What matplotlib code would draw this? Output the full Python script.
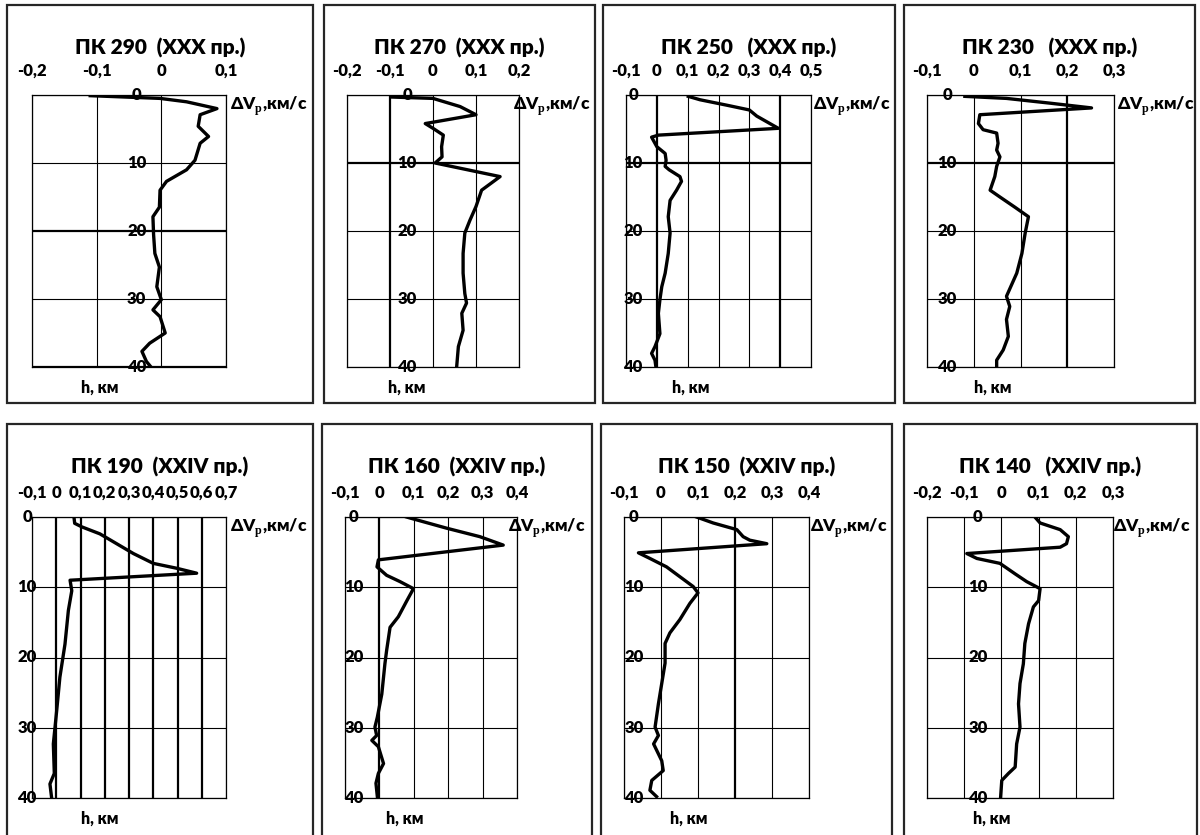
import numpy as np
import matplotlib.pyplot as plt
from matplotlib.patches import Rectangle

plt.rcParams['font.family'] = ['Lato', 'Open Sans', 'DejaVu Sans']
plt.rcParams['font.weight'] = 'bold'
plt.rcParams['mathtext.fontset'] = 'custom'
plt.rcParams['mathtext.rm'] = 'Liberation Serif'

W, H = 1200, 835

titles = ["ПК 290  (XXX пр.)", "ПК 270  (XXX пр.)", "ПК 250   (XXX пр.)",
          "ПК 230   (XXX пр.)", "ПК 190  (XXIV пр.)", "ПК 160  (XXIV пр.)",
          "ПК 150  (XXIV пр.)", "ПК 140   (XXIV пр.)"]
x_ranges = [(-0.2, 0.1), (-0.2, 0.2), (-0.1, 0.5), (-0.1, 0.3),
            (-0.1, 0.7), (-0.1, 0.4), (-0.1, 0.4), (-0.2, 0.3)]
depth_ticks = [0, 10, 20, 30, 40]

# ПК 290
h1 = [0.1, 0.5, 1.0, 2.0, 2.9, 4.6, 6.1, 7.1, 9.6, 11.0, 12.7, 14.0, 16.5, 17.9,
      20.5, 23.3, 25.3, 28.2, 30.1, 31.6, 32.6, 35.0, 36.5, 37.7, 39.2, 40.0]
v1 = [-0.11, -0.002, 0.039, 0.086, 0.060, 0.057, 0.073, 0.060, 0.052, 0.039, 0.008,
      -0.002, -0.003, -0.013, -0.012, -0.010, -0.003, -0.007, 0.0, -0.013, -0.002,
      0.006, -0.018, -0.030, -0.023, -0.016]
# ПК 270
h2 = [0.3, 0.5, 1.7, 2.9, 4.2, 4.9, 5.9, 7.6, 9.1, 10.0, 12.0, 14.0, 16.4, 18.4,
      20.3, 23.3, 26.2, 29.2, 30.6, 32.1, 34.6, 37.0, 40.0]
v2 = [-0.096, 0.0, 0.063, 0.10, -0.018, 0.0, 0.024, 0.02, 0.021, 0.005, 0.156, 0.113,
      0.10, 0.086, 0.074, 0.07, 0.07, 0.074, 0.078, 0.067, 0.07, 0.059, 0.055]
# ПК 250
h3 = [0.2, 0.7, 1.5, 2.2, 3.1, 4.9, 5.9, 6.2, 7.6, 8.6, 9.6, 10.5, 11.0, 12.0, 12.7,
      14.0, 15.5, 17.9, 20.3, 23.3, 26.2, 28.2, 30.1, 32.1, 35.1, 37.0, 38.0, 39.0, 40.0]
v3 = [0.102, 0.14, 0.227, 0.30, 0.324, 0.394, 0.005, -0.017, 0.0, 0.027, 0.03, 0.027,
      0.04, 0.075, 0.08, 0.064, 0.043, 0.037, 0.043, 0.037, 0.027, 0.016, 0.01, 0.005,
      0.01, -0.006, -0.017, -0.006, -0.003]
# ПК 230
h4 = [0.2, 0.5, 1.2, 1.9, 2.9, 4.2, 5.1, 5.6, 7.1, 8.1, 9.1, 10.5, 12.0, 14.0, 15.0,
      16.5, 17.9, 20.3, 23.3, 26.2, 29.6, 31.1, 33.0, 35.5, 37.5, 39.0, 40.0]
v4 = [-0.019, 0.07, 0.163, 0.252, 0.013, 0.01, 0.02, 0.049, 0.052, 0.049, 0.056, 0.049,
      0.045, 0.035, 0.056, 0.088, 0.117, 0.11, 0.103, 0.092, 0.07, 0.077, 0.07, 0.074,
      0.063, 0.049, 0.049]
# ПК 190
h5 = [0.0, 0.9, 1.4, 2.4, 3.8, 5.2, 6.6, 7.3, 8.0, 9.0, 10.5, 13.3, 18.1, 22.8, 27.5,
      32.3, 36.5, 38.0, 40.0]
v5 = [0.073, 0.076, 0.105, 0.18, 0.249, 0.318, 0.40, 0.497, 0.579, 0.057, 0.064, 0.05,
      0.036, 0.015, 0.002, -0.012, -0.008, -0.026, -0.019]
# ПК 160
h6 = [0.0, 0.2, 1.6, 2.8, 4.0, 6.1, 7.1, 8.3, 9.2, 10.2, 11.9, 14.2, 15.7, 19.0, 20.9,
      25.2, 28.5, 29.9, 31.1, 31.8, 32.7, 35.1, 36.5, 37.9, 39.8]
v6 = [0.079, 0.093, 0.196, 0.292, 0.36, -0.003, -0.007, 0.021, 0.06, 0.099, 0.08, 0.055,
      0.031, 0.021, 0.016, 0.007, -0.006, -0.013, -0.008, -0.022, -0.003, 0.012, -0.003,
      -0.01, -0.006]
# ПК 150
h7 = [0.0, 0.85, 1.8, 2.8, 3.3, 3.8, 5.1, 5.9, 7.1, 8.5, 9.9, 10.8, 12.3, 14.6, 16.5,
      18.0, 20.8, 23.7, 26.6, 29.9, 31.1, 32.3, 34.7, 36.1, 37.5, 38.9, 39.8]
v7 = [0.096, 0.141, 0.205, 0.222, 0.24, 0.286, -0.061, -0.03, 0.015, 0.051, 0.087, 0.10,
      0.078, 0.051, 0.024, 0.011, 0.011, 0.002, -0.007, -0.016, -0.007, -0.02, 0.002,
      0.006, -0.025, -0.03, -0.012]
# ПК 140
h8 = [0.0, 0.85, 1.8, 2.8, 3.8, 4.3, 5.2, 5.9, 6.6, 8.1, 9.2, 10.2, 11.9, 12.8, 15.2,
      18.0, 20.9, 23.7, 26.6, 29.9, 32.3, 35.6, 36.5, 37.5, 39.8]
v8 = [0.09, 0.104, 0.158, 0.18, 0.175, 0.158, -0.093, -0.066, -0.004, 0.037, 0.068,
      0.104, 0.1, 0.086, 0.073, 0.063, 0.059, 0.05, 0.046, 0.05, 0.041, 0.037, 0.019,
      0.001, -0.002]

depths = [h1, h2, h3, h4, h5, h6, h7, h8]
values = [v1, v2, v3, v4, v5, v6, v7, v8]

# layout in pixels
boxes = [(7, 5, 313, 403), (324, 5, 595, 403), (603, 5, 895, 403), (904, 5, 1195, 403),
         (7, 424, 313, 845), (322, 424, 592, 845), (601, 424, 892, 845), (904, 424, 1197, 845)]
plot_areas = [(32, 95, 226, 367), (347, 95, 519, 367), (626, 95, 811, 367), (927, 95, 1114, 367),
              (32, 517, 226, 798), (345, 517, 517, 798), (624, 517, 809, 798), (927, 517, 1113, 798)]
title_y = [48, 48, 48, 48, 467, 467, 467, 467]
unit_x = [230, 513, 813, 1117, 230, 508, 810, 1113]
hlabel_x = [-0.038, -0.06, -0.077, -0.057, -0.12, -0.074, -0.073, -0.063]
thick_x = [[], [-0.1], [0.0, 0.4], [0.2], [0.0, 0.1, 0.2, 0.3, 0.4, 0.5, 0.6], [0.0], [0.2], []]
thick_y = [[20, 40], [10], [10], [10], [], [], [], []]


def fmt(v):
    if abs(v) < 1e-9:
        return '0'
    return f'{v:.1f}'.replace('.', ',')


def main():
    fig = plt.figure(figsize=(W / 100, H / 100), dpi=100)

    for i in range(8):
        bx0, by0, bx1, by1 = boxes[i]
        fig.patches.append(Rectangle((bx0 / W, 1 - by1 / H), (bx1 - bx0) / W, (by1 - by0) / H,
                                     transform=fig.transFigure, fill=False,
                                     edgecolor='#262626', linewidth=1.6))
        fig.text((bx0 + bx1) / 2 / W, 1 - title_y[i] / H, titles[i], ha='center',
                 va='center', fontsize=15, fontweight='heavy', color='black')

        x0, y0, x1, y1 = plot_areas[i]
        ax = fig.add_axes([x0 / W, 1 - y1 / H, (x1 - x0) / W, (y1 - y0) / H])
        lo, hi = x_ranges[i]
        xt = np.round(np.arange(lo, hi + 0.05, 0.1), 1)
        ax.set_xlim(lo, hi)
        ax.set_ylim(40, 0)
        ax.xaxis.tick_top()
        ax.set_xticks(xt)
        ax.set_xticklabels([fmt(t) for t in xt])
        ax.set_yticks(depth_ticks)
        ax.set_yticklabels([])
        ax.tick_params(axis='x', length=0, pad=14, labelsize=12, colors='black')
        ax.tick_params(axis='y', length=0)
        for lbl in ax.get_xticklabels():
            lbl.set_fontweight('heavy')
            lbl.set_verticalalignment('baseline')
        ax.grid(True, color='black', linewidth=0.8)
        for t, gl in zip(xt, ax.get_xgridlines()):
            if any(abs(t - k) < 1e-6 for k in thick_x[i]):
                gl.set_linewidth(1.6)
        for t, gl in zip(depth_ticks, ax.get_ygridlines()):
            if t in thick_y[i]:
                gl.set_linewidth(1.6)
        for s in ax.spines.values():
            s.set_color('black')
            s.set_linewidth(0.9)

        ax.plot(values[i], depths[i], color='black', linewidth=2.4, solid_joinstyle='round')

        for d in depth_ticks:
            ax.text(hlabel_x[i], d, str(d), ha='center', va='center', fontsize=12,
                    fontweight='heavy', color='black', clip_on=False, zorder=5)

        ax.text((unit_x[i] - x0) / (x1 - x0), 1.0, r'ΔV$_\mathrm{p}$,км/с',
                transform=ax.transAxes, ha='left', va='top', fontsize=12.5,
                fontweight='heavy', color='black')
        ax.text(0.35, -0.075, 'h, км', transform=ax.transAxes, ha='center', va='center',
                fontsize=11.5, fontweight='heavy', color='black')

    fig.savefig('out.png', dpi=100)


if __name__ == "__main__":
    main()
